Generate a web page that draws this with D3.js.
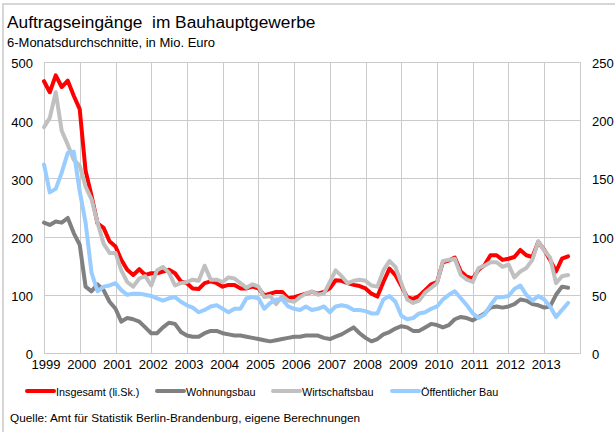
<!DOCTYPE html>
<html>
<head>
<meta charset="utf-8">
<script src="https://cdn.jsdelivr.net/npm/d3@7"></script>
<style>
  body { margin: 0; background: #fff; }
  svg text { font-family: "Liberation Sans", Arial, sans-serif; }
</style>
</head>
<body>
<svg id="chart" width="615" height="432"></svg>
<script>
// Two-monthly values (6-month moving averages), Mio. Euro
const months = [
  "1999-01","1999-03","1999-05","1999-07","1999-09","1999-11",
  "2000-01","2000-03","2000-05","2000-07","2000-09","2000-11",
  "2001-01","2001-03","2001-05","2001-07","2001-09","2001-11",
  "2002-01","2002-03","2002-05","2002-07","2002-09","2002-11",
  "2003-01","2003-03","2003-05","2003-07","2003-09","2003-11",
  "2004-01","2004-03","2004-05","2004-07","2004-09","2004-11",
  "2005-01","2005-03","2005-05","2005-07","2005-09","2005-11",
  "2006-01","2006-03","2006-05","2006-07","2006-09","2006-11",
  "2007-01","2007-03","2007-05","2007-07","2007-09","2007-11",
  "2008-01","2008-03","2008-05","2008-07","2008-09","2008-11",
  "2009-01","2009-03","2009-05","2009-07","2009-09","2009-11",
  "2010-01","2010-03","2010-05","2010-07","2010-09","2010-11",
  "2011-01","2011-03","2011-05","2011-07","2011-09","2011-11",
  "2012-01","2012-03","2012-05","2012-07","2012-09","2012-11",
  "2013-01","2013-03","2013-05","2013-07","2013-09"
];

// Insgesamt, left scale
const insgesamt = [
  467,448,477,457,468,442,
  419,313,270,223,215,192,
  183,160,143,134,144,134,
  137,137,140,143,137,123,
  120,111,110,120,123,120,
  114,117,117,111,111,114,
  111,99,102,105,105,94,
  96,99,102,105,102,105,
  111,125,124,120,117,115,
  111,102,97,122,145,134,
  115,96,93,98,108,118,
  122,156,159,164,140,131,
  128,143,151,168,168,160,
  162,165,177,168,165,191,
  177,160,140,162,166
];

// Components, right scale
const wohnungsbau = [
  112,110,113,112,116,103,
  93,57,53,59,54,44,
  38,27,30,29,27,22,
  17,17,22,26,25,18,
  15,14,14,17,19,19,
  17,16,15,15,14,13,
  12,11,10,11,12,13,
  14,14,15,15,15,13,
  12,14,16,19,22,17,
  13,10,12,16,18,21,
  23,22,19,19,22,25,
  24,22,24,29,31,30,
  28,31,34,39,40,39,
  40,42,46,45,42,41,
  39,40,50,57,56
];

const wirtschaftsbau = [
  194,202,224,191,179,166,
  161,143,132,112,94,86,
  86,71,61,57,64,66,
  58,71,74,69,58,60,
  61,63,62,75,63,63,
  61,65,64,60,56,59,
  57,48,49,42,49,45,
  44,48,51,53,50,51,
  61,71,66,60,62,63,
  62,58,57,71,79,74,
  60,46,43,45,52,56,
  60,79,80,81,67,63,
  61,73,75,78,78,74,
  76,65,70,73,80,96,
  88,82,60,66,67
];

const oeffentlicherBau = [
  162,138,141,155,172,173,
  139,112,69,53,57,58,
  60,54,50,51,51,50,
  49,47,45,47,48,44,
  41,39,35,37,40,41,
  38,35,38,38,47,48,
  47,38,43,46,46,40,
  38,37,40,37,38,40,
  35,40,41,40,37,37,
  36,34,34,46,49,44,
  32,29,30,34,35,38,
  40,46,50,53,47,41,
  34,30,33,41,48,48,
  49,55,58,50,45,49,
  46,40,31,37,43
];

const yearLabels = [1999,2000,2001,2002,2003,2004,2005,2006,2007,2008,2009,2010,2011,2012,2013];
const leftTicks = [0,100,200,300,400,500];
const rightTicks = [0,50,100,150,200,250];

const seriesNames = ["Insgesamt (li.Sk.)","Wohnungsbau","Wirtschaftsbau","Öffentlicher Bau"];
const seriesColors = ["#ff0000","#808080","#c0c0c0","#99ccff"];

const titleText = "Auftragseingänge  im Bauhauptgewerbe";
const subtitleText = "6-Monatsdurchschnitte, in Mio. Euro";
const sourceText = "Quelle: Amt für Statistik Berlin-Brandenburg, eigene Berechnungen";

// ---- drawing ----
const W = 615, H = 432;
const plot = { left: 44, right: 580, top: 62, bottom: 353 };
const svg = d3.select("#chart");

svg.append("rect").attr("width", W).attr("height", H).attr("fill", "#fff");
// chart frame (open to the right and bottom)
svg.append("rect")
  .attr("x", 3).attr("y", 4).attr("width", 700).attr("height", 500)
  .attr("fill", "none").attr("stroke", "#d6d6d6").attr("stroke-width", 2);

const parseMonth = d3.timeParse("%Y-%m");
const dates = months.map(parseMonth);

const x = d3.scaleTime()
  .domain([new Date(1999, 0, 1), new Date(2014, 0, 1)])
  .range([plot.left, plot.right]);
const yL = d3.scaleLinear().domain([0, 500]).range([plot.bottom, plot.top]);
const yR = d3.scaleLinear().domain([0, 250]).range([plot.bottom, plot.top]);

// gridlines
const grid = svg.append("g").attr("stroke", "#cbcbcb").attr("stroke-width", 1).attr("shape-rendering", "crispEdges");
grid.selectAll("line.h").data(leftTicks).join("line")
  .attr("class", "h")
  .attr("x1", plot.left).attr("x2", plot.right)
  .attr("y1", d => Math.round(yL(d)) + 0.5).attr("y2", d => Math.round(yL(d)) + 0.5);
const gridYears = yearLabels.concat([2014]).map(y => new Date(y, 0, 1));
grid.selectAll("line.v").data(gridYears).join("line")
  .attr("class", "v")
  .attr("y1", plot.top).attr("y2", plot.bottom + 1)
  .attr("x1", d => Math.round(x(d)) + 0.5).attr("x2", d => Math.round(x(d)) + 0.5);

// axes
const axisFont = g => g.attr("font-size", 13).attr("font-family", "'Liberation Sans', Arial, sans-serif");

const axL = svg.append("g")
  .attr("transform", `translate(${plot.left},0)`)
  .call(d3.axisLeft(yL).tickValues(leftTicks).tickSize(0).tickPadding(11))
  .call(axisFont);
axL.select(".domain").remove();
axL.selectAll("text").attr("dy", "0.45em").attr("fill", "#000");

const axR = svg.append("g")
  .attr("transform", `translate(${plot.right},0)`)
  .call(d3.axisRight(yR).tickValues(rightTicks).tickSize(0).tickPadding(12))
  .call(axisFont);
axR.select(".domain").remove();
axR.selectAll("text").attr("dy", "0.42em").attr("fill", "#000");

const axB = svg.append("g")
  .attr("transform", `translate(0,${plot.bottom})`)
  .call(d3.axisBottom(x).tickValues(yearLabels.map(y => new Date(y, 0, 1)))
    .tickFormat(d3.timeFormat("%Y")).tickSize(0).tickPadding(7))
  .call(axisFont);
axB.select(".domain").remove();
axB.selectAll("text").attr("dx", "1.5").attr("fill", "#000");

// lines
const rows = dates.map((d, i) => ({
  date: d,
  ins: insgesamt[i], woh: wohnungsbau[i], wir: wirtschaftsbau[i], oef: oeffentlicherBau[i]
}));

const series = [
  { key: "ins", scale: yL, color: seriesColors[0] },
  { key: "woh", scale: yR, color: seriesColors[1] },
  { key: "wir", scale: yR, color: seriesColors[2] },
  { key: "oef", scale: yR, color: seriesColors[3] }
];

series.forEach(s => {
  const line = d3.line().x(d => x(d.date)).y(d => s.scale(d[s.key]));
  svg.append("path")
    .datum(rows)
    .attr("d", line)
    .attr("fill", "none")
    .attr("stroke", s.color)
    .attr("stroke-width", 4)
    .attr("stroke-linejoin", "round")
    .attr("stroke-linecap", "round");
});

// titles
svg.append("text").attr("x", 7).attr("y", 28)
  .attr("font-size", 17.3).attr("fill", "#000")
  .style("white-space", "pre").attr("xml:space", "preserve")
  .text(titleText);
svg.append("text").attr("x", 7).attr("y", 46.5)
  .attr("font-size", 13).attr("fill", "#000").text(subtitleText);

// legend
const legendX = [27, 157, 273, 392];
const legend = svg.append("g").attr("transform", "translate(0,391)");
seriesNames.forEach((name, i) => {
  legend.append("line")
    .attr("x1", legendX[i]).attr("x2", legendX[i] + 27)
    .attr("y1", 0).attr("y2", 0)
    .attr("stroke", seriesColors[i]).attr("stroke-width", 4).attr("stroke-linecap", "round");
  legend.append("text")
    .attr("x", legendX[i] + 29).attr("y", 5)
    .attr("font-size", 10.8).attr("fill", "#000").text(name);
});

// source
svg.append("text").attr("x", 10).attr("y", 422)
  .attr("font-size", 11.8).attr("fill", "#000").text(sourceText);
</script>
</body>
</html>
